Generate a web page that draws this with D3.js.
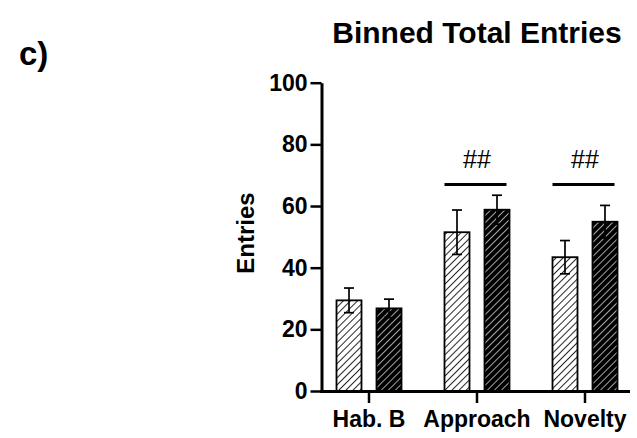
<!DOCTYPE html>
<html>
<head>
<meta charset="utf-8">
<script src="https://cdn.jsdelivr.net/npm/d3@7/dist/d3.min.js"></script>
<style>
  body { margin: 0; background: #fff; }
  text { font-family: "Liberation Sans", Arial, Helvetica, sans-serif; }
</style>
</head>
<body>
<svg id="chart" width="637" height="438"></svg>
<script>
(function() {
    'use strict';

    var categories = ['Hab. B', 'Approach', 'Novelty'];
    var lightMeans = [29.4, 51.5, 43.4];
    var lightSem = [4.0, 7.2, 5.4];
    var darkMeans = [26.8, 58.8, 54.9];
    var darkSem = [3.0, 4.7, 5.3];
    var yTicks = [0, 20, 40, 60, 80, 100];
    var sigMarks = [
        { category: 'Approach', value: 67, label: '##' },
        { category: 'Novelty', value: 67, label: '##' }
    ];

    var svg = d3.select('#chart');

    var x = d3.scaleBand()
        .domain(categories)
        .range([315, 639])
        .paddingInner(0)
        .paddingOuter(0);

    var y = d3.scaleLinear()
        .domain([0, 100])
        .range([391, 82.7]);

    var barWidth = 25;
    var offset = 20;
    var capHalf = 5;
    var font = '"Liberation Sans", Arial, sans-serif';

    // hatch patterns
    var defs = svg.append('defs');
    var light = defs.append('pattern')
        .attr('id', 'hatchLight')
        .attr('patternUnits', 'userSpaceOnUse')
        .attr('width', 5).attr('height', 5)
        .attr('patternTransform', 'rotate(45)');
    light.append('rect').attr('width', 5).attr('height', 5).attr('fill', '#fff');
    light.append('line').attr('x1', 0).attr('y1', 0).attr('x2', 0).attr('y2', 5)
        .attr('stroke', '#000').attr('stroke-width', 1.7);

    var dark = defs.append('pattern')
        .attr('id', 'hatchDark')
        .attr('patternUnits', 'userSpaceOnUse')
        .attr('width', 5).attr('height', 5)
        .attr('patternTransform', 'rotate(45)');
    dark.append('rect').attr('width', 5).attr('height', 5).attr('fill', '#000');
    dark.append('line').attr('x1', 0).attr('y1', 0).attr('x2', 0).attr('y2', 5)
        .attr('stroke', '#fff').attr('stroke-width', 1.3);

    var rows = categories.map(function(c, i) {
        return [
            { cat: c, mean: lightMeans[i], sem: lightSem[i], dx: -offset, fill: 'url(#hatchLight)' },
            { cat: c, mean: darkMeans[i], sem: darkSem[i], dx: offset, fill: 'url(#hatchDark)' }
        ];
    }).reduce(function(a, b) { return a.concat(b); }, []);

    function cx(d) { return x(d.cat) + x.bandwidth() / 2 + d.dx; }

    var bars = svg.append('g').attr('class', 'bars');
    bars.selectAll('rect')
        .data(rows)
        .enter().append('rect')
        .attr('x', function(d) { return cx(d) - barWidth / 2; })
        .attr('y', function(d) { return y(d.mean); })
        .attr('width', barWidth)
        .attr('height', function(d) { return y(0) - y(d.mean); })
        .attr('fill', function(d) { return d.fill; })
        .attr('stroke', '#000')
        .attr('stroke-width', 1.8);

    var err = svg.append('g').attr('class', 'errors')
        .attr('stroke', '#000').attr('stroke-width', 1.7).attr('fill', 'none');
    err.selectAll('line.v')
        .data(rows)
        .enter().append('line')
        .attr('class', 'v')
        .attr('x1', cx).attr('x2', cx)
        .attr('y1', function(d) { return y(d.mean + d.sem); })
        .attr('y2', function(d) { return y(d.mean - d.sem); });
    err.selectAll('line.cap')
        .data(rows)
        .enter().append('line')
        .attr('class', 'cap')
        .attr('x1', function(d) { return cx(d) - capHalf; })
        .attr('x2', function(d) { return cx(d) + capHalf; })
        .attr('y1', function(d) { return y(d.mean + d.sem); })
        .attr('y2', function(d) { return y(d.mean + d.sem); });
    err.selectAll('line.capb')
        .data(rows)
        .enter().append('line')
        .attr('class', 'capb')
        .attr('x1', function(d) { return cx(d) - capHalf; })
        .attr('x2', function(d) { return cx(d) + capHalf; })
        .attr('y1', function(d) { return y(d.mean - d.sem); })
        .attr('y2', function(d) { return y(d.mean - d.sem); });

    // axes
    var yAxis = svg.append('g')
        .attr('transform', 'translate(321.5,0)')
        .call(d3.axisLeft(y).tickValues(yTicks).tickSize(11).tickPadding(3).tickSizeOuter(0));
    yAxis.select('.domain').attr('stroke-width', 3);
    yAxis.selectAll('.tick line').attr('stroke-width', 2.5);
    yAxis.selectAll('.tick text')
        .attr('font-size', 23).attr('font-weight', 'bold').attr('fill', '#000')
        .attr('font-family', font);

    var xAxis = svg.append('g')
        .attr('transform', 'translate(0,' + y(0) + ')')
        .call(d3.axisBottom(x).tickSize(12).tickPadding(8).tickSizeOuter(0));
    xAxis.select('.domain').attr('stroke-width', 3).attr('d', 'M320,0.5H630');
    xAxis.selectAll('.tick line').attr('stroke-width', 2.5);
    xAxis.selectAll('.tick text')
        .attr('font-size', 23).attr('font-weight', 'bold').attr('fill', '#000')
        .attr('font-family', font);

    // significance
    var sig = svg.append('g').attr('class', 'sig');
    sig.selectAll('line')
        .data(sigMarks)
        .enter().append('line')
        .attr('x1', function(d) { return x(d.category) + x.bandwidth() / 2 - offset - barWidth / 2; })
        .attr('x2', function(d) { return x(d.category) + x.bandwidth() / 2 + offset + barWidth / 2 - 3; })
        .attr('y1', function(d) { return y(d.value); })
        .attr('y2', function(d) { return y(d.value); })
        .attr('stroke', '#000').attr('stroke-width', 3);
    sig.selectAll('text')
        .data(sigMarks)
        .enter().append('text')
        .attr('x', function(d) { return x(d.category) + x.bandwidth() / 2; })
        .attr('y', function(d) { return y(d.value) - 16; })
        .attr('text-anchor', 'middle')
        .attr('font-size', 25)
        .text(function(d) { return d.label; });

    // labels
    svg.append('text')
        .attr('transform', 'translate(254,233) rotate(-90)')
        .attr('text-anchor', 'middle')
        .attr('font-size', 24).attr('font-weight', 'bold')
        .text('Entries');

    svg.append('text')
        .attr('x', 477).attr('y', 43)
        .attr('text-anchor', 'middle')
        .attr('font-size', 30).attr('font-weight', 'bold')
        .text('Binned Total Entries');

    svg.append('text')
        .attr('x', 19).attr('y', 65)
        .attr('font-size', 33).attr('font-weight', 'bold')
        .text('c)');
}());
</script>
</body>
</html>
